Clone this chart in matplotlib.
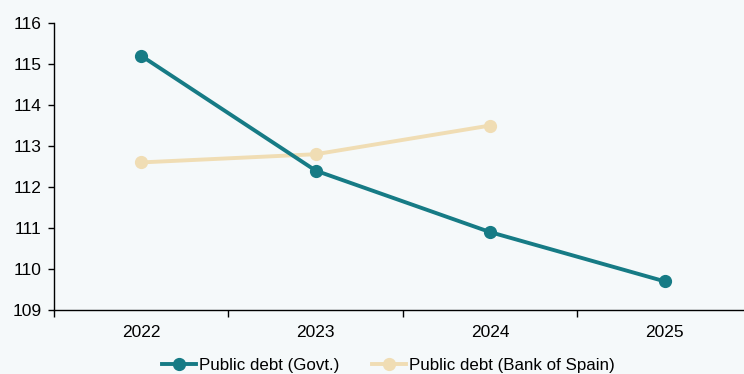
import matplotlib
matplotlib.use("Agg")
from matplotlib import pyplot as plt
from matplotlib.ticker import FixedLocator

plt.rcParams['font.family'] = ['Liberation Sans', 'DejaVu Sans']

years = ['2022', '2023', '2024', '2025']
govt = [115.2, 112.4, 110.9, 109.7]
bank_of_spain = [112.6, 112.8, 113.5]

bg = '#f5f9fa'
teal = '#167b85'
beige = '#f0ddb4'

fig = plt.figure(figsize=(7.44, 3.74), dpi=100, facecolor=bg)
ax = fig.add_axes([54 / 744, 0.171, 0.938, 0.7675], facecolor=bg)

x = list(range(len(years)))
ax.plot(x, govt, color=teal, lw=2.8, marker='o', ms=8.5,
        label='Public debt (Govt.)', zorder=3)
ax.plot(x[:len(bank_of_spain)], bank_of_spain, color=beige, lw=2.8, marker='o',
        ms=8.5, label='Public debt (Bank of Spain)', zorder=2)

ax.set_xlim(-0.5, 3.5)
ax.set_ylim(109, 116)
ax.set_yticks(range(109, 117))
ax.set_xticks(x)
ax.set_xticklabels(years)
ax.xaxis.set_minor_locator(FixedLocator([-0.5, 0.5, 1.5, 2.5, 3.5]))
ax.tick_params(axis='x', which='major', length=0, labelsize=12.5, pad=11)
ax.tick_params(axis='x', which='minor', length=5, width=1, color='black')
ax.tick_params(axis='y', length=4, width=1, labelsize=12.5, pad=5)

for side in ['top', 'right']:
    ax.spines[side].set_visible(False)
for side in ['left', 'bottom']:
    ax.spines[side].set_color('black')
    ax.spines[side].set_linewidth(1)

fig.legend(loc='center', bbox_to_anchor=(0.522, 0.024), ncol=2, frameon=False,
           fontsize=12.2, handlelength=2.0, handletextpad=0.2, columnspacing=1.9)

fig.savefig('out.png', dpi=100, facecolor=bg)
